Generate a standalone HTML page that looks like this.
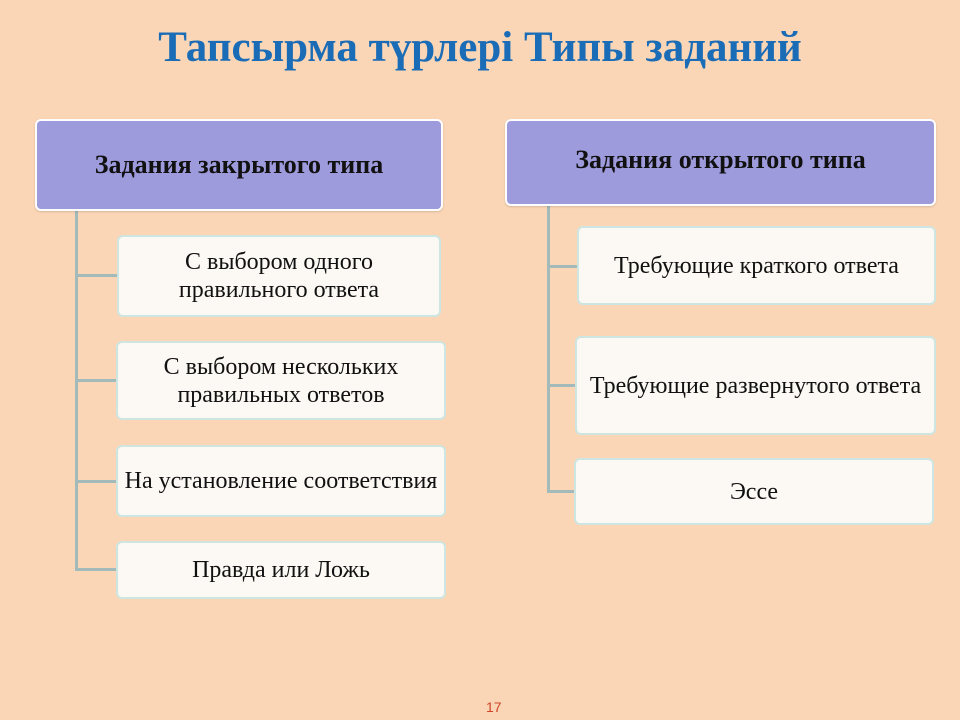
<!DOCTYPE html>
<html><head><meta charset="utf-8"><style>
body{margin:0}
#s{position:relative;width:960px;height:720px;background:#FBD6B6;font-family:"Liberation Serif",serif;overflow:hidden}
.t{position:absolute;left:0;width:960px;top:23px;text-align:center;font-size:43px;font-weight:bold;color:#1A6CB6}
.h{position:absolute;background:#9E9BDD;border:2px solid #fff;border-radius:6px;box-sizing:border-box;display:flex;align-items:center;justify-content:center;font-weight:bold;font-size:26px;color:#111;box-shadow:0 1px 2px rgba(0,0,0,.15)}
.b{position:absolute;background:#FCF8F3;border:2px solid #CDE6E2;border-radius:6px;box-sizing:border-box;display:flex;align-items:center;justify-content:center;text-align:center;font-size:24px;color:#111;line-height:28px;white-space:nowrap}
.l{position:absolute;background:#A3BABA}
.n{position:absolute;left:486px;top:699px;font-family:"Liberation Sans",sans-serif;font-size:14px;color:#D0452A}
</style></head><body><div id="s">
<div class="t">Тапсырма түрлері Типы заданий</div>
<div class="l" style="left:75px;top:210px;width:3px;height:360px"></div>
<div class="l" style="left:75px;top:274px;width:43px;height:3px"></div>
<div class="l" style="left:75px;top:379px;width:43px;height:3px"></div>
<div class="l" style="left:75px;top:480px;width:43px;height:3px"></div>
<div class="l" style="left:75px;top:568px;width:43px;height:3px"></div>
<div class="h" style="left:35px;top:119px;width:408px;height:92px">Задания закрытого типа</div>
<div class="b" style="left:117px;top:235px;width:324px;height:82px">С выбором одного<br>правильного ответа</div>
<div class="b" style="left:116px;top:341px;width:330px;height:79px">С выбором нескольких<br>правильных ответов</div>
<div class="b" style="left:116px;top:445px;width:330px;height:72px">На установление соответствия</div>
<div class="b" style="left:116px;top:541px;width:330px;height:58px">Правда или Ложь</div>
<div class="l" style="left:547px;top:205px;width:3px;height:287px"></div>
<div class="l" style="left:547px;top:265px;width:32px;height:3px"></div>
<div class="l" style="left:547px;top:384px;width:30px;height:3px"></div>
<div class="l" style="left:547px;top:490px;width:29px;height:3px"></div>
<div class="h" style="left:505px;top:119px;width:431px;height:87px;padding-bottom:6px">Задания открытого типа</div>
<div class="b" style="left:577px;top:226px;width:359px;height:79px">Требующие краткого ответа</div>
<div class="b" style="left:575px;top:336px;width:361px;height:99px">Требующие развернутого ответа</div>
<div class="b" style="left:574px;top:458px;width:360px;height:67px">Эссе</div>
<div class="n">17</div>
</div></body></html>
